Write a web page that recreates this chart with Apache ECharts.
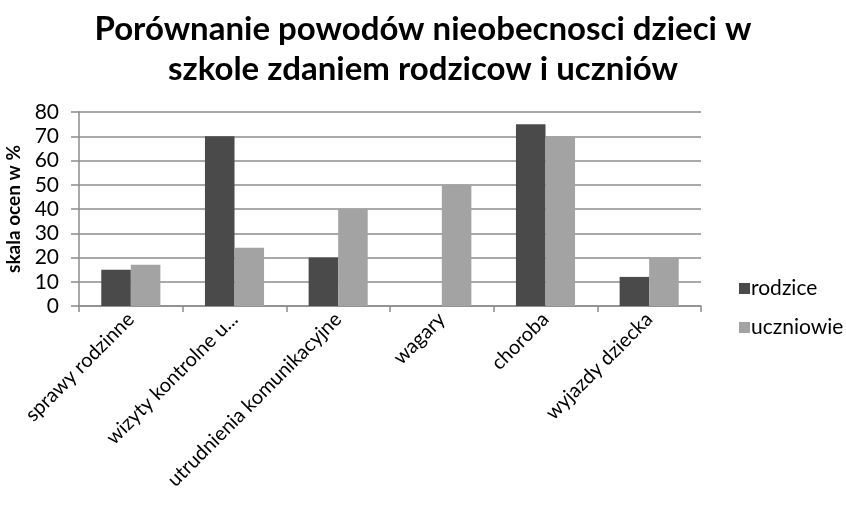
<!DOCTYPE html>
<html>
<head>
<meta charset="utf-8">
<script src="https://cdn.jsdelivr.net/npm/echarts@6/dist/echarts.min.js"></script>
<style>
  html, body { margin: 0; padding: 0; background: #fff; }
  #chart { width: 846px; height: 510px; }
</style>
</head>
<body>
<div id="chart"></div>
<script>
// dane z wykresu
var categories = ['sprawy rodzinne', 'wizyty kontrolne u...', 'utrudnienia komunikacyjne', 'wagary', 'choroba', 'wyjazdy dziecka'];
var rodzice = [15, 70, 20, 0, 75, 12];
var uczniowie = [17, 24, 40, 50, 70, 20];
var seriesNames = ['rodzice', 'uczniowie'];

var font = 'Lato, "Open Sans", sans-serif';
var chart = echarts.init(document.getElementById('chart'));

var option = {
  animation: false,
  title: {
    text: 'Porównanie powodów nieobecnosci dzieci w\nszkole zdaniem rodzicow i uczniów',
    left: 'center',
    top: 4,
    textStyle: {
      fontFamily: font,
      fontWeight: 'bold',
      fontSize: 33,
      lineHeight: 40,
      color: '#000'
    }
  },
  legend: {
    orient: 'vertical',
    left: 734,
    top: 273,
    itemWidth: 11,
    itemHeight: 11,
    itemGap: 18,
    icon: 'rect',
    data: seriesNames,
    textStyle: { fontFamily: font, fontSize: 21, color: '#000', padding: [0, 0, 0, -4] }
  },
  grid: {
    left: 79,
    right: 145,
    top: 112,
    bottom: 204,
    outerBoundsMode: 'none'
  },
  xAxis: {
    type: 'category',
    data: categories,
    axisLine: { lineStyle: { color: '#8c8c8c', width: 1.5 } },
    axisTick: { show: true, length: 6, lineStyle: { color: '#8c8c8c', width: 1.5 } },
    axisLabel: {
      rotate: 45,
      interval: 0,
      margin: 10,
      fontFamily: font,
      fontSize: 20,
      color: '#000'
    }
  },
  yAxis: {
    type: 'value',
    min: 0,
    max: 80,
    interval: 10,
    name: 'skala ocen w %',
    nameLocation: 'middle',
    nameGap: 48,
    nameTextStyle: { fontFamily: font, fontWeight: 'bold', fontSize: 19, color: '#000' },
    axisLine: { show: true, lineStyle: { color: '#8c8c8c', width: 1.5 } },
    axisTick: { show: true, length: 8, lineStyle: { color: '#8c8c8c', width: 1.5 } },
    splitLine: { lineStyle: { color: '#8c8c8c', width: 1.5 } },
    axisLabel: { fontFamily: font, fontSize: 21, color: '#000', margin: 20 }
  },
  series: [
    {
      name: seriesNames[0],
      type: 'bar',
      data: rodzice,
      barGap: '0%',
      barCategoryGap: '43%',
      itemStyle: { color: '#4a4a4a' }
    },
    {
      name: seriesNames[1],
      type: 'bar',
      data: uczniowie,
      itemStyle: { color: '#a3a3a3' }
    }
  ]
};

chart.setOption(option);
</script>
</body>
</html>
